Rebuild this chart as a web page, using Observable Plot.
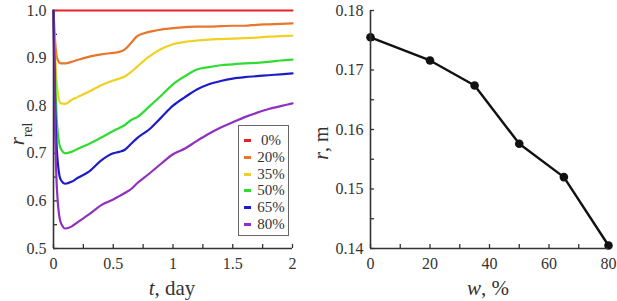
<!DOCTYPE html>
<html>
<head>
<meta charset="utf-8">
<script src="https://cdn.jsdelivr.net/npm/d3@7"></script>
<script src="https://cdn.jsdelivr.net/npm/@observablehq/plot@0.6"></script>
<style>
  html, body { margin: 0; padding: 0; background: #fff; }
  #wrap { position: relative; width: 617px; height: 301px; overflow: hidden; font-family: "Liberation Serif", "Times New Roman", serif; }
  #left { position: absolute; left: 0; top: 0; }
  #right { position: absolute; left: 310px; top: 0; }
  #legend { position: absolute; left: 238px; top: 125px; width: 51px; height: 111px; border: 1px solid #666; background: #fff; box-sizing: border-box; }
  .row { position: absolute; left: 0; width: 51px; height: 16px; }
  .dash { position: absolute; left: 5px; top: 7px; width: 7px; height: 3px; }
  .lab { position: absolute; left: 18px; width: 28px; text-align: center; font-size: 15px; line-height: 16px; color: #333; font-family: "Liberation Serif", serif; }
  #wrap svg, #wrap svg text { font-family: "Liberation Serif", "Times New Roman", serif !important; }
  svg text { fill: #333; }
</style>
</head>
<body>
<div id="wrap">
  <div id="left"></div>
  <div id="right"></div>
  <div id="legend"></div>
</div>
<script>
// ---- Left panel data: relative r vs time (days) ----
const tDays = [0, 0.01, 0.03, 0.06, 0.1, 0.15, 0.2, 0.3, 0.4, 0.5, 0.55, 0.6, 0.65, 0.7, 0.8, 0.9, 1.0, 1.1, 1.2, 1.3, 1.4, 1.5, 1.6, 1.7, 1.8, 1.9, 2.0];
const series = ["0%", "20%", "35%", "50%", "65%", "80%"];
const colors = ["#e8202a", "#e8762c", "#f0d020", "#30dc30", "#1c1cc8", "#9030c0"];
const r0  = [1,1,1,1,1,1,1,1,1,1,1,1,1,1,1,1,1,1,1,1,1,1,1,1,1,1,1];
const r20 = [1.0, 0.95, 0.90, 0.889, 0.889, 0.892, 0.896, 0.903, 0.908, 0.911, 0.913, 0.919, 0.932, 0.946, 0.955, 0.960, 0.963, 0.965, 0.966, 0.966, 0.967, 0.968, 0.968, 0.970, 0.971, 0.972, 0.973];
const r35 = [1.0, 0.93, 0.84, 0.805, 0.804, 0.812, 0.818, 0.830, 0.843, 0.853, 0.857, 0.862, 0.871, 0.882, 0.903, 0.919, 0.929, 0.934, 0.937, 0.939, 0.940, 0.941, 0.942, 0.943, 0.945, 0.946, 0.947];
const r50 = [1.0, 0.90, 0.76, 0.71, 0.700, 0.703, 0.709, 0.720, 0.733, 0.747, 0.753, 0.760, 0.770, 0.776, 0.798, 0.821, 0.845, 0.862, 0.876, 0.881, 0.885, 0.887, 0.889, 0.890, 0.892, 0.895, 0.897];
const r65 = [1.0, 0.85, 0.70, 0.645, 0.636, 0.640, 0.648, 0.662, 0.685, 0.700, 0.703, 0.708, 0.720, 0.732, 0.750, 0.775, 0.800, 0.818, 0.834, 0.845, 0.852, 0.857, 0.860, 0.862, 0.864, 0.866, 0.868];
const r80 = [1.0, 0.80, 0.62, 0.555, 0.542, 0.546, 0.555, 0.572, 0.591, 0.603, 0.610, 0.617, 0.625, 0.637, 0.657, 0.678, 0.698, 0.710, 0.726, 0.741, 0.754, 0.765, 0.776, 0.785, 0.793, 0.799, 0.805];
const leftTicksX = [0, 0.5, 1, 1.5, 2];
const leftTickLabelsX = ["0", "0.5", "1", "1.5", "2"];
const leftMinorX = [0.25, 0.75, 1.25, 1.75];
const leftTicksY = [0.5, 0.6, 0.7, 0.8, 0.9, 1.0];
const leftMinorY = [0.55, 0.65, 0.75, 0.85, 0.95];

// ---- Right panel data: r vs w ----
const wPct = [0, 20, 35, 50, 65, 80];
const rM = [0.1755, 0.1716, 0.1674, 0.1576, 0.1520, 0.1405];
const rightTicksX = [0, 20, 40, 60, 80];
const rightMinorX = [10, 30, 50, 70];
const rightTicksY = [0.14, 0.15, 0.16, 0.17, 0.18];
const rightMinorY = [0.145, 0.155, 0.165, 0.175];

const FONT = '"Liberation Serif", "Times New Roman", serif';
const allR = [r0, r20, r35, r50, r65, r80];
const rows = [];
series.forEach((s, i) => tDays.forEach((t, j) => rows.push({w: s, t, r: allR[i][j]})));
const pts = wPct.map((w, i) => ({w, r: rM[i]}));

const H = 301, mT = 10, mB = 53;
const frameH = H - mT - mB;
const tickLen = 4;
const axisColor = "#333";

function panel(opts) {
  const {width, mL, mR, xDomain, yDomain, xTicks, xLabels, xMinor, yTicks, yFormat, yMinor, marks} = opts;
  const frameW = width - mL - mR;
  return Plot.plot({
    width, height: H,
    marginLeft: mL, marginRight: mR, marginTop: mT, marginBottom: mB,
    style: {fontFamily: FONT, fontSize: "16px", color: axisColor, background: "transparent", overflow: "visible"},
    x: {domain: xDomain},
    y: {domain: yDomain},
    color: {domain: series, range: colors},
    marks: [
      Plot.axisX({ticks: xTicks, tickSize: 0, tickPadding: 9, tickFormat: (d) => xLabels ? xLabels[xTicks.indexOf(d)] : String(d), label: null}),
      Plot.axisY({ticks: yTicks, tickSize: 0, tickPadding: 7, tickFormat: yFormat, label: null}),
      Plot.tickX(xTicks.concat(xMinor), {x: (d) => d, insetTop: frameH - tickLen, stroke: axisColor, strokeWidth: 1.3}),
      Plot.tickY(yTicks.concat(yMinor), {y: (d) => d, insetRight: frameW - tickLen, stroke: axisColor, strokeWidth: 1.3}),
      ...marks,
      Plot.ruleX([xDomain[0]], {stroke: axisColor, strokeWidth: 1.6}),
      Plot.ruleY([yDomain[0]], {stroke: axisColor, strokeWidth: 1.6})
    ]
  });
}

const left = panel({
  width: 310, mL: 53, mR: 18,
  xDomain: [0, 2], yDomain: [0.5, 1.0],
  xTicks: leftTicksX, xLabels: leftTickLabelsX, xMinor: leftMinorX,
  yTicks: leftTicksY, yFormat: d3.format(".1f"), yMinor: leftMinorY,
  marks: [
    Plot.line(rows, {x: "t", y: "r", z: "w", stroke: "w", strokeWidth: 2.2, curve: "monotone-x"})
  ]
});

const right = panel({
  width: 307, mL: 60, mR: 9,
  xDomain: [0, 80], yDomain: [0.14, 0.18],
  xTicks: rightTicksX, xLabels: null, xMinor: rightMinorX,
  yTicks: rightTicksY, yFormat: d3.format(".2f"), yMinor: rightMinorY,
  marks: [
    Plot.line(pts, {x: "w", y: "r", stroke: "#111", strokeWidth: 2.4}),
    Plot.dot(pts, {x: "w", y: "r", r: 4.3, fill: "#111", stroke: "none"})
  ]
});

document.getElementById("left").appendChild(left);
document.getElementById("right").appendChild(right);

// Axis titles (italic variable names, subscript)
function addText(svg, x, y, rotate, parts, size) {
  const t = d3.select(svg).append("text")
    .attr("transform", `translate(${x},${y}) rotate(${rotate})`)
    .attr("text-anchor", "middle")
    .style("font-family", FONT)
    .style("font-size", size + "px")
    .style("fill", "#333");
  parts.forEach(p => {
    const s = t.append("tspan").text(p.text);
    if (p.italic) s.style("font-style", "italic");
    if (p.sub) s.attr("baseline-shift", "sub").style("font-size", (size * 0.65) + "px");
  });
}
addText(left, 172, 295, 0, [{text: "t", italic: true}, {text: ", day"}], 21);
addText(left, 24, 134, -90, [{text: "r", italic: true}, {text: "rel", sub: true}], 21);
addText(right, 178, 295, 0, [{text: "w", italic: true}, {text: ", %"}], 21);
addText(right, 18, 143, -90, [{text: "r", italic: true}, {text: ", m"}], 20);

// Legend
const legend = document.getElementById("legend");
series.forEach((s, i) => {
  const row = document.createElement("div");
  row.className = "row";
  row.style.top = (6 + i * 16.8) + "px";
  const dash = document.createElement("div");
  dash.className = "dash";
  dash.style.background = colors[i];
  const lab = document.createElement("div");
  lab.className = "lab";
  lab.textContent = s;
  row.appendChild(dash);
  row.appendChild(lab);
  legend.appendChild(row);
});
</script>
</body>
</html>
